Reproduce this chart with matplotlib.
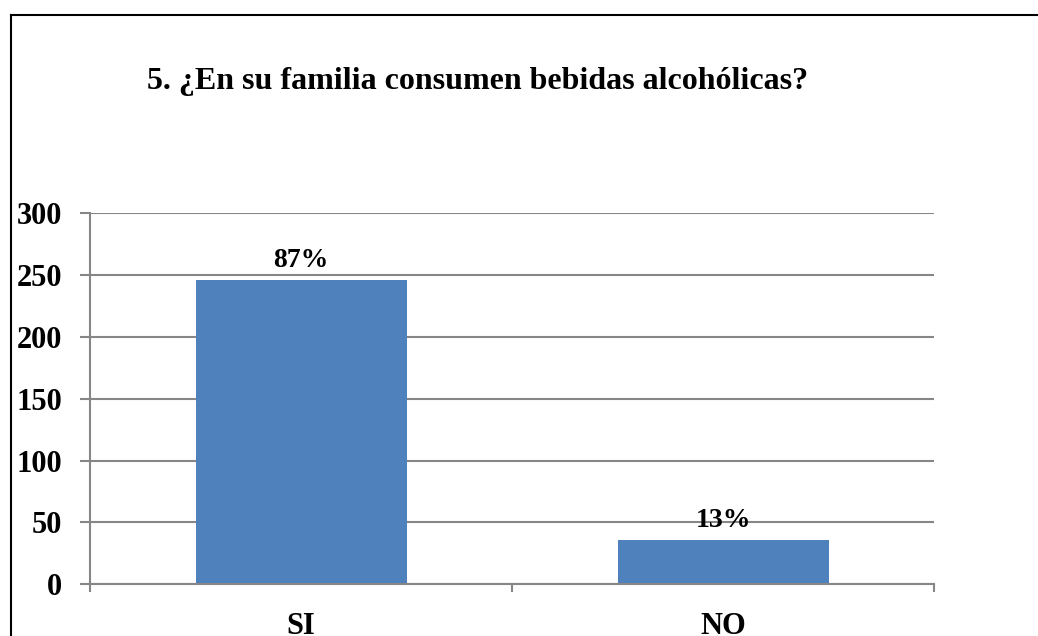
import matplotlib
matplotlib.use('Agg')
import matplotlib.pyplot as plt
from matplotlib.lines import Line2D

categories = ['SI', 'NO']
counts = [246, 36]
pct_labels = ['87%', '13%']
yticks = [0, 50, 100, 150, 200, 250, 300]
title = '5. ¿En su familia consumen bebidas alcohólicas?'

plt.rcParams['font.family'] = ['Liberation Serif', 'DejaVu Serif']
plt.rcParams['font.weight'] = 'bold'

W, H = 1038, 636
fig = plt.figure(figsize=(W / 100, H / 100), dpi=100)
ax = fig.add_axes([90 / W, 1 - 584.3 / H, (934 - 90) / W, (584.3 - 213.3) / H])

grey = '#868686'
x = list(range(len(categories)))
bars = ax.bar(x, counts, width=0.5, color='#4F81BD', zorder=2)
for b, lab in zip(bars, pct_labels):
    ax.annotate(lab, (b.get_x() + b.get_width() / 2, b.get_height()),
                xytext=(0, 5), textcoords='offset points',
                ha='center', va='bottom', fontsize=20, fontweight='bold', zorder=3)

ax.set_xlim(-0.5, 1.5)
ax.set_ylim(0, 300)
ax.set_yticks(yticks)
ax.set_yticklabels([str(t) for t in yticks], fontsize=22, fontweight='bold')
ax.set_xticks([-0.5, 0.5, 1.5])
ax.set_xticklabels([])
ax.set_xticks(x, minor=True)
ax.set_xticklabels(categories, minor=True, fontsize=22, fontweight='bold')
ax.tick_params(axis='x', which='minor', length=0, pad=20)
ax.tick_params(axis='x', which='major', length=6, width=1.5, color=grey)
ax.tick_params(axis='y', length=7, width=1.5, color=grey, pad=13)

ax.yaxis.grid(True, color=grey, linewidth=1.5, zorder=0)
ax.set_axisbelow(True)
for s in ['top', 'right']:
    ax.spines[s].set_visible(False)
for s in ['left', 'bottom']:
    ax.spines[s].set_color(grey)
    ax.spines[s].set_linewidth(1.5)

fig.text(478 / W, 1 - 82 / H, title, ha='center', va='center',
         fontsize=23, fontweight='bold')

# outer frame (left and top edges visible)
fig.add_artist(Line2D([10.5 / W, 10.5 / W], [0, 1 - 15 / H], color='black', linewidth=1.5,
                      transform=fig.transFigure))
fig.add_artist(Line2D([10.5 / W, 1], [1 - 15 / H, 1 - 15 / H], color='black', linewidth=1.5,
                      transform=fig.transFigure))

fig.savefig('out.png', dpi=100)
